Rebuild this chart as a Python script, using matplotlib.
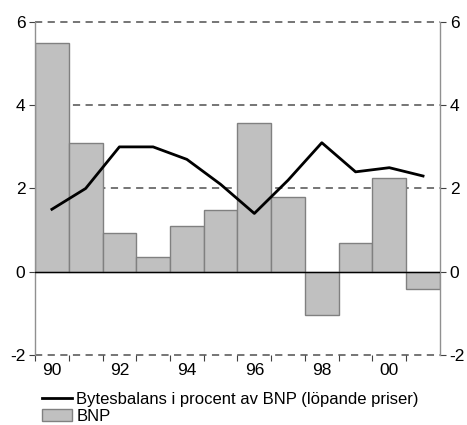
import matplotlib.pyplot as plt
from matplotlib.lines import Line2D
from matplotlib.patches import Patch

plt.rcParams['font.family'] = ['Liberation Sans', 'DejaVu Sans']

years = [1990, 1991, 1992, 1993, 1994, 1995, 1996, 1997, 1998, 1999, 2000, 2001]
bnp = [5.5, 3.1, 0.93, 0.35, 1.1, 1.48, 3.57, 1.8, -1.05, 0.68, 2.25, -0.42]
bytesbalans = [1.5, 2.0, 3.0, 3.0, 2.7, 2.1, 1.4, 2.2, 3.1, 2.4, 2.5, 2.3]
xlabels = ['90', '92', '94', '96', '98', '00']
yticks = [-2, 0, 2, 4, 6]

fig = plt.figure(figsize=(4.67, 4.25), dpi=100)
ax = fig.add_axes([0.075, 0.165, 0.867, 0.783])

for y in [-2, 2, 4, 6]:
    ax.axhline(y, color='#6a6a6a', lw=1.3, ls=(0, (4, 3)), zorder=0, clip_on=False)

ax.bar(years, bnp, width=1.0, color='#c0c0c0', edgecolor='#808080', lw=1.0, zorder=2)
ax.axhline(0, color='black', lw=1.0, zorder=3)
ax.plot(years, bytesbalans, color='black', lw=2.0, zorder=4)

ax.set_xlim(1989.5, 2001.5)
ax.set_ylim(-2, 6)

ax.set_xticks([y + 0.5 for y in years[:-1]] + [1989.5])
ax.set_xticklabels([])
ax.set_xticks(years[::2], minor=True)
ax.set_xticklabels(xlabels, minor=True)
ax.tick_params(axis='x', which='major', length=4, color='#404040', direction='out')
ax.tick_params(axis='x', which='minor', length=0, labelsize=12.5, pad=6)

ax.set_yticks(yticks)
ax.set_yticklabels([str(v) for v in yticks])
ax.tick_params(axis='y', which='both', left=True, right=True, labelleft=True,
               labelright=True, length=4, color='#404040', labelsize=12.5, pad=3)

for side in ['top', 'bottom']:
    ax.spines[side].set_visible(False)
for side in ['left', 'right']:
    ax.spines[side].set_color('#909090')
    ax.spines[side].set_linewidth(1.0)

handles = [Line2D([], [], color='black', lw=2.0),
           Patch(facecolor='#c0c0c0', edgecolor='#808080')]
labels = ['Bytesbalans i procent av BNP (löpande priser)', 'BNP']
fig.legend(handles, labels, loc='lower left', bbox_to_anchor=(0.065, -0.025),
           frameon=False, fontsize=12, handlelength=1.8, handletextpad=0.25,
           labelspacing=0.12, borderpad=0.2)

fig.savefig('out.png', dpi=100)
